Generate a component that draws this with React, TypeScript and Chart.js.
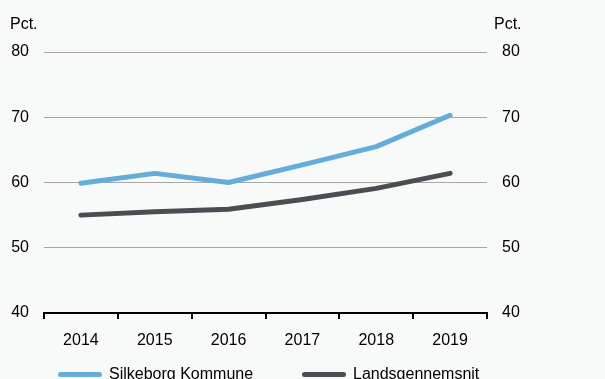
import React, { useEffect, useRef } from "react";
import { Chart, registerables } from "chart.js";

Chart.register(...registerables);

const years = ["2014", "2015", "2016", "2017", "2018", "2019"];
const silkeborg = [59.9, 61.4, 60.0, 62.7, 65.5, 70.3];
const landsgennemsnit = [55.0, 55.5, 55.9, 57.4, 59.1, 61.4];
const seriesNames = ["Silkeborg Kommune", "Landsgennemsnit"];
const unitLabel = "Pct.";

const BLUE = "#65acd9";
const DARK = "#4c4d52";
const BG = "#f8f9f9";
const FONT = "'Liberation Sans', Arial, sans-serif";

const unitPlugin = {
  id: "unitLabels",
  afterDraw(chart: any) {
    const ctx = chart.ctx;
    ctx.save();
    ctx.font = `16px ${FONT}`;
    ctx.fillStyle = "#000";
    ctx.textBaseline = "middle";
    ctx.textAlign = "left";
    ctx.fillText(unitLabel, 10, 25);
    ctx.fillText(unitLabel, 494, 25);
    ctx.restore();
  },
};

export default function App() {
  const ref = useRef<HTMLCanvasElement | null>(null);
  useEffect(() => {
    document.body.style.margin = "0";
    document.body.style.background = BG;
    const chart = new Chart(ref.current as HTMLCanvasElement, {
      type: "line",
      data: {
        labels: years,
        datasets: [
          {
            label: seriesNames[0],
            data: silkeborg,
            borderColor: BLUE,
            backgroundColor: BLUE,
            borderWidth: 5,
            pointRadius: 0,
            borderCapStyle: "round",
            borderJoinStyle: "round",
            tension: 0,
            yAxisID: "y",
          },
          {
            label: seriesNames[1],
            data: landsgennemsnit,
            borderColor: DARK,
            backgroundColor: DARK,
            borderWidth: 5,
            pointRadius: 0,
            borderCapStyle: "round",
            borderJoinStyle: "round",
            tension: 0,
            yAxisID: "y",
          },
        ],
      },
      options: {
        animation: false,
        responsive: false,
        maintainAspectRatio: false,
        layout: { padding: { top: 52, bottom: 0, left: 0, right: 0 } },
        plugins: { legend: { display: false }, tooltip: { enabled: false } },
        scales: {
          x: {
            offset: true,
            grid: {
              offset: true,
              drawOnChartArea: false,
              drawTicks: true,
              tickLength: 6,
              color: "#000",
              lineWidth: 2,
            },
            border: { color: "#000", width: 2 },
            ticks: { color: "#000", font: { family: FONT, size: 16 }, padding: 12 },
            afterFit: (s: any) => {
              s.height = 66;
            },
          },
          y: {
            position: "left",
            min: 40,
            max: 80,
            ticks: { stepSize: 10, color: "#000", font: { family: FONT, size: 16 }, padding: 15 },
            grid: { color: "#a8a8a8", lineWidth: 1, drawTicks: false },
            border: { display: false },
            afterFit: (s: any) => {
              s.width = 44;
            },
          },
          y2: {
            position: "right",
            min: 40,
            max: 80,
            ticks: { stepSize: 10, color: "#000", font: { family: FONT, size: 16 }, padding: 15 },
            grid: { drawOnChartArea: false, drawTicks: false },
            border: { display: false },
            afterFit: (s: any) => {
              s.width = 118;
            },
          },
        },
      },
      plugins: [unitPlugin],
    } as any);
    return () => chart.destroy();
  }, []);

  const legendItem = (left: number, color: string, text: string) => (
    <div
      style={{
        position: "absolute",
        left,
        top: 365,
        display: "flex",
        alignItems: "center",
        whiteSpace: "nowrap",
        font: `16px ${FONT}`,
        lineHeight: "18px",
        color: "#000",
      }}
    >
      <span
        style={{
          display: "inline-block",
          width: 44,
          height: 5,
          borderRadius: 3,
          background: color,
          marginRight: 7,
          marginTop: 0,
        }}
      />
      <span>{text}</span>
    </div>
  );

  return (
    <div
      style={{
        position: "fixed",
        left: 0,
        top: 0,
        width: 605,
        height: 379,
        overflow: "hidden",
        background: BG,
      }}
    >
      <canvas ref={ref} width={605} height={379} style={{ display: "block" }} />
      {legendItem(58, BLUE, seriesNames[0])}
      {legendItem(302, DARK, seriesNames[1])}
    </div>
  );
}
